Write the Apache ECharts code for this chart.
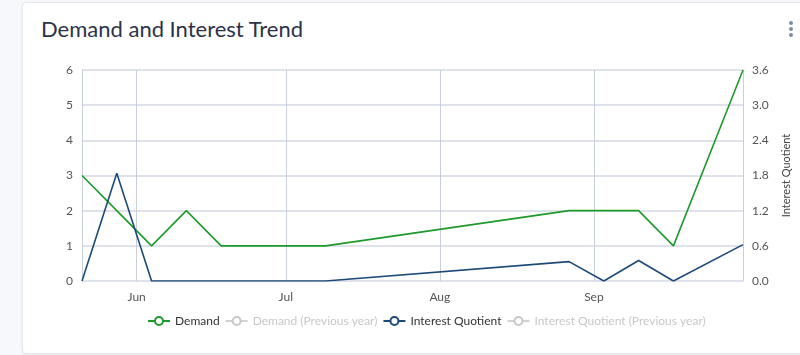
<!DOCTYPE html>
<html>
<head>
<meta charset="utf-8">
<script src="https://cdn.jsdelivr.net/npm/echarts@6/dist/echarts.min.js"></script>
<style>
  html, body { margin: 0; padding: 0; background: #f7f8fb; width: 800px; height: 355px; overflow: hidden; font-family: Lato, "Open Sans", sans-serif; }
  #card { position: absolute; left: 22px; top: 2px; width: 790px; height: 350px; background: #fff; border: 1px solid #e4e7ee; border-radius: 4px; box-shadow: 0 1px 3px rgba(0,0,0,0.06); }
  #title { position: absolute; left: 41px; top: 15px; font-size: 22px; color: #2c3347; font-family: Lato, sans-serif; }
  #dots { position: absolute; left: 789px; top: 21px; width: 6px; }
  #dots span { display: block; width: 4px; height: 4px; border-radius: 2px; background: #7f8ca6; margin-bottom: 2px; }
  #chart { position: absolute; left: 0; top: 0; width: 800px; height: 355px; }
</style>
</head>
<body>
<div id="card"></div>
<div id="title">Demand and Interest Trend</div>
<div id="dots"><span></span><span></span><span></span></div>
<div id="chart"></div>
<script>
const dates = ['2018-05-21','2018-05-28','2018-06-04','2018-06-11','2018-06-18','2018-06-25','2018-07-02','2018-07-09','2018-08-27','2018-09-03','2018-09-10','2018-09-17','2018-10-01'];
const demand = [3, 2, 1, 2, 1, 1, 1, 1, 2, 2, 2, 1, 6];
const interest = [0, 1.84, 0, 0, 0, 0, 0, 0, 0.33, 0, 0.35, 0, 0.62];
const demandPrev = [];
const interestPrev = [];
const leftTicks = [0, 1, 2, 3, 4, 5, 6];
const rightTicks = [0, 0.6, 1.2, 1.8, 2.4, 3.0, 3.6];
const monthNames = ['Jan','Feb','Mar','Apr','May','Jun','Jul','Aug','Sep','Oct','Nov','Dec'];

const pair = (vals) => dates.map((d, i) => [d, vals[i]]);

const chart = echarts.init(document.getElementById('chart'), null, { renderer: 'canvas' });
chart.setOption({
  animation: false,
  textStyle: { fontFamily: 'Lato, sans-serif' },
  grid: { left: 82, right: 57, top: 70, bottom: 74, containLabel: false },
  legend: {
    bottom: 23,
    left: 142,
    itemWidth: 22,
    itemHeight: 10,
    itemGap: 5,
    textStyle: { fontSize: 12, color: '#333', fontFamily: 'Lato, sans-serif' },
    inactiveColor: '#c8c8c8',
    data: ['Demand', 'Demand (Previous year)', 'Interest Quotient', 'Interest Quotient (Previous year)'],
    selected: { 'Demand (Previous year)': false, 'Interest Quotient (Previous year)': false }
  },
  xAxis: {
    type: 'time',
    min: 'dataMin',
    max: 'dataMax',
    boundaryGap: false,
    axisLine: { show: false },
    axisTick: { show: false },
    splitLine: { show: true, lineStyle: { color: '#c9cedb', width: 1 } },
    axisLabel: {
      color: '#555',
      fontSize: 12,
      margin: 10,
      showMaxLabel: false,
      showMinLabel: false,
      formatter: function (v) { const d = new Date(v); return d.getDate() === 1 ? monthNames[d.getMonth()] : ''; }
    }
  },
  yAxis: [
    {
      type: 'value', min: leftTicks[0], max: leftTicks[leftTicks.length - 1], interval: 1,
      axisLine: { show: true, lineStyle: { color: '#c9cedb' } },
      axisTick: { show: false },
      splitLine: { lineStyle: { color: '#d5d9e3', width: 1.5 } },
      axisLabel: { color: '#555', fontSize: 12, margin: 9 }
    },
    {
      type: 'value', min: rightTicks[0], max: rightTicks[rightTicks.length - 1], interval: 0.6,
      name: 'Interest Quotient', nameLocation: 'middle', nameRotate: 90, nameGap: 38,
      nameTextStyle: { color: '#444', fontSize: 11 },
      axisLine: { show: true, lineStyle: { color: '#c9cedb' } },
      axisTick: { show: false },
      splitLine: { show: false },
      axisLabel: { color: '#555', fontSize: 12, margin: 9, formatter: v => v.toFixed(1) }
    }
  ],
  series: [
    { name: 'Demand', type: 'line', yAxisIndex: 0, data: pair(demand), showSymbol: false, symbol: 'emptyCircle', symbolSize: 8,
      lineStyle: { color: '#1e9a2c', width: 1.6 }, itemStyle: { color: '#1e9a2c' } },
    { name: 'Demand (Previous year)', type: 'line', yAxisIndex: 0, data: demandPrev, showSymbol: false, symbol: 'emptyCircle', symbolSize: 8,
      lineStyle: { color: '#8bc34a', width: 1.6 }, itemStyle: { color: '#8bc34a' } },
    { name: 'Interest Quotient', type: 'line', yAxisIndex: 1, data: pair(interest), showSymbol: false, symbol: 'emptyCircle', symbolSize: 8,
      lineStyle: { color: '#1d4a78', width: 1.6 }, itemStyle: { color: '#1d4a78' } },
    { name: 'Interest Quotient (Previous year)', type: 'line', yAxisIndex: 1, data: interestPrev, showSymbol: false, symbol: 'emptyCircle', symbolSize: 8,
      lineStyle: { color: '#5b8fc7', width: 1.6 }, itemStyle: { color: '#5b8fc7' } }
  ]
});
</script>
</body>
</html>
